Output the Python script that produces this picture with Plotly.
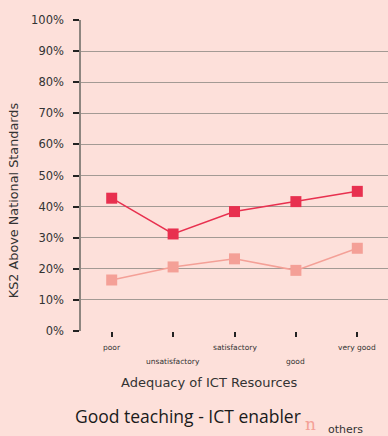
import plotly.graph_objects as go

# Adequacy of ICT resources vs. share of KS2 pupils above national standards
categories = ["poor", "unsatisfactory", "satisfactory", "good", "very good"]
good_teaching = [42.7, 31.2, 38.4, 41.6, 44.9]
others = [16.4, 20.6, 23.2, 19.5, 26.6]
y_ticks = [0, 10, 20, 30, 40, 50, 60, 70, 80, 90, 100]

BG = "#FDE0DA"
TEXT = "#333333"
DARK = "#E8304F"
LIGHT = "#F4A097"
FONT = "DejaVu Sans"

x_idx = list(range(len(categories)))

fig = go.Figure()
fig.add_trace(go.Scatter(
    x=x_idx, y=others, mode="lines+markers",
    line=dict(color=LIGHT, width=1.5),
    marker=dict(symbol="square", size=11, color=LIGHT),
    name="others", showlegend=False,
))
fig.add_trace(go.Scatter(
    x=x_idx, y=good_teaching, mode="lines+markers",
    line=dict(color=DARK, width=1.5),
    marker=dict(symbol="square", size=11, color=DARK),
    name="Good teaching", showlegend=False,
))

# category labels staggered on two rows below the tick marks
cat_labels = [
    dict(text=c, x=i, xref="x", y=0, yref="paper", yanchor="middle",
         yshift=-16 if i % 2 == 0 else -30, showarrow=False,
         font=dict(size=7.5, color=TEXT, family=FONT))
    for i, c in enumerate(categories)
]

fig.update_layout(
    width=388, height=436,
    margin=dict(l=81, r=0, t=20, b=105),
    paper_bgcolor=BG, plot_bgcolor=BG,
    font=dict(family=FONT, color=TEXT),
    xaxis=dict(
        range=[-0.5, 4.5], tickmode="array", tickvals=x_idx, ticktext=[""] * len(x_idx),
        showgrid=False, zeroline=False, showline=False,
        ticks="outside", ticklen=5, tickwidth=2, tickcolor="#222222",
    ),
    yaxis=dict(
        range=[0, 100], tickmode="array", tickvals=y_ticks,
        ticktext=[f"{v}%" for v in y_ticks],
        showgrid=True, gridcolor="#A39A94", gridwidth=1,
        zeroline=False, showline=True, linecolor="#8E8680", linewidth=1.5,
        ticks="outside", ticklen=6, tickwidth=2, tickcolor="#222222",
        ticklabelstandoff=7,
        tickfont=dict(size=11.5, color=TEXT),
    ),
    annotations=cat_labels + [
        dict(text="KS2 Above National Standards", xref="paper", yref="paper",
             x=-0.219, y=0.42, textangle=-90, xanchor="center", yanchor="middle",
             showarrow=False, font=dict(size=12.8, color=TEXT)),
        dict(text="Adequacy of ICT Resources", xref="paper", yref="paper",
             x=0.42, y=-0.164, xanchor="center", yanchor="middle", showarrow=False,
             font=dict(size=13, color=TEXT)),
        dict(text="Good teaching - ICT enabler", xref="paper", yref="paper",
             x=0.349, y=-0.273, xanchor="center", yanchor="middle", showarrow=False,
             font=dict(size=17.5, color="#1A1A1A", family="Open Sans", weight=500)),
        dict(text="n", xref="paper", yref="paper", x=0.749, y=-0.3,
             xanchor="center", yanchor="middle", showarrow=False,
             font=dict(size=17, color=LIGHT, family="DejaVu Serif")),
        dict(text="others", xref="paper", yref="paper", x=0.797, y=-0.317,
             xanchor="left", yanchor="middle", showarrow=False,
             font=dict(size=11, color=TEXT)),
    ],
)

fig.write_html("out.html")
